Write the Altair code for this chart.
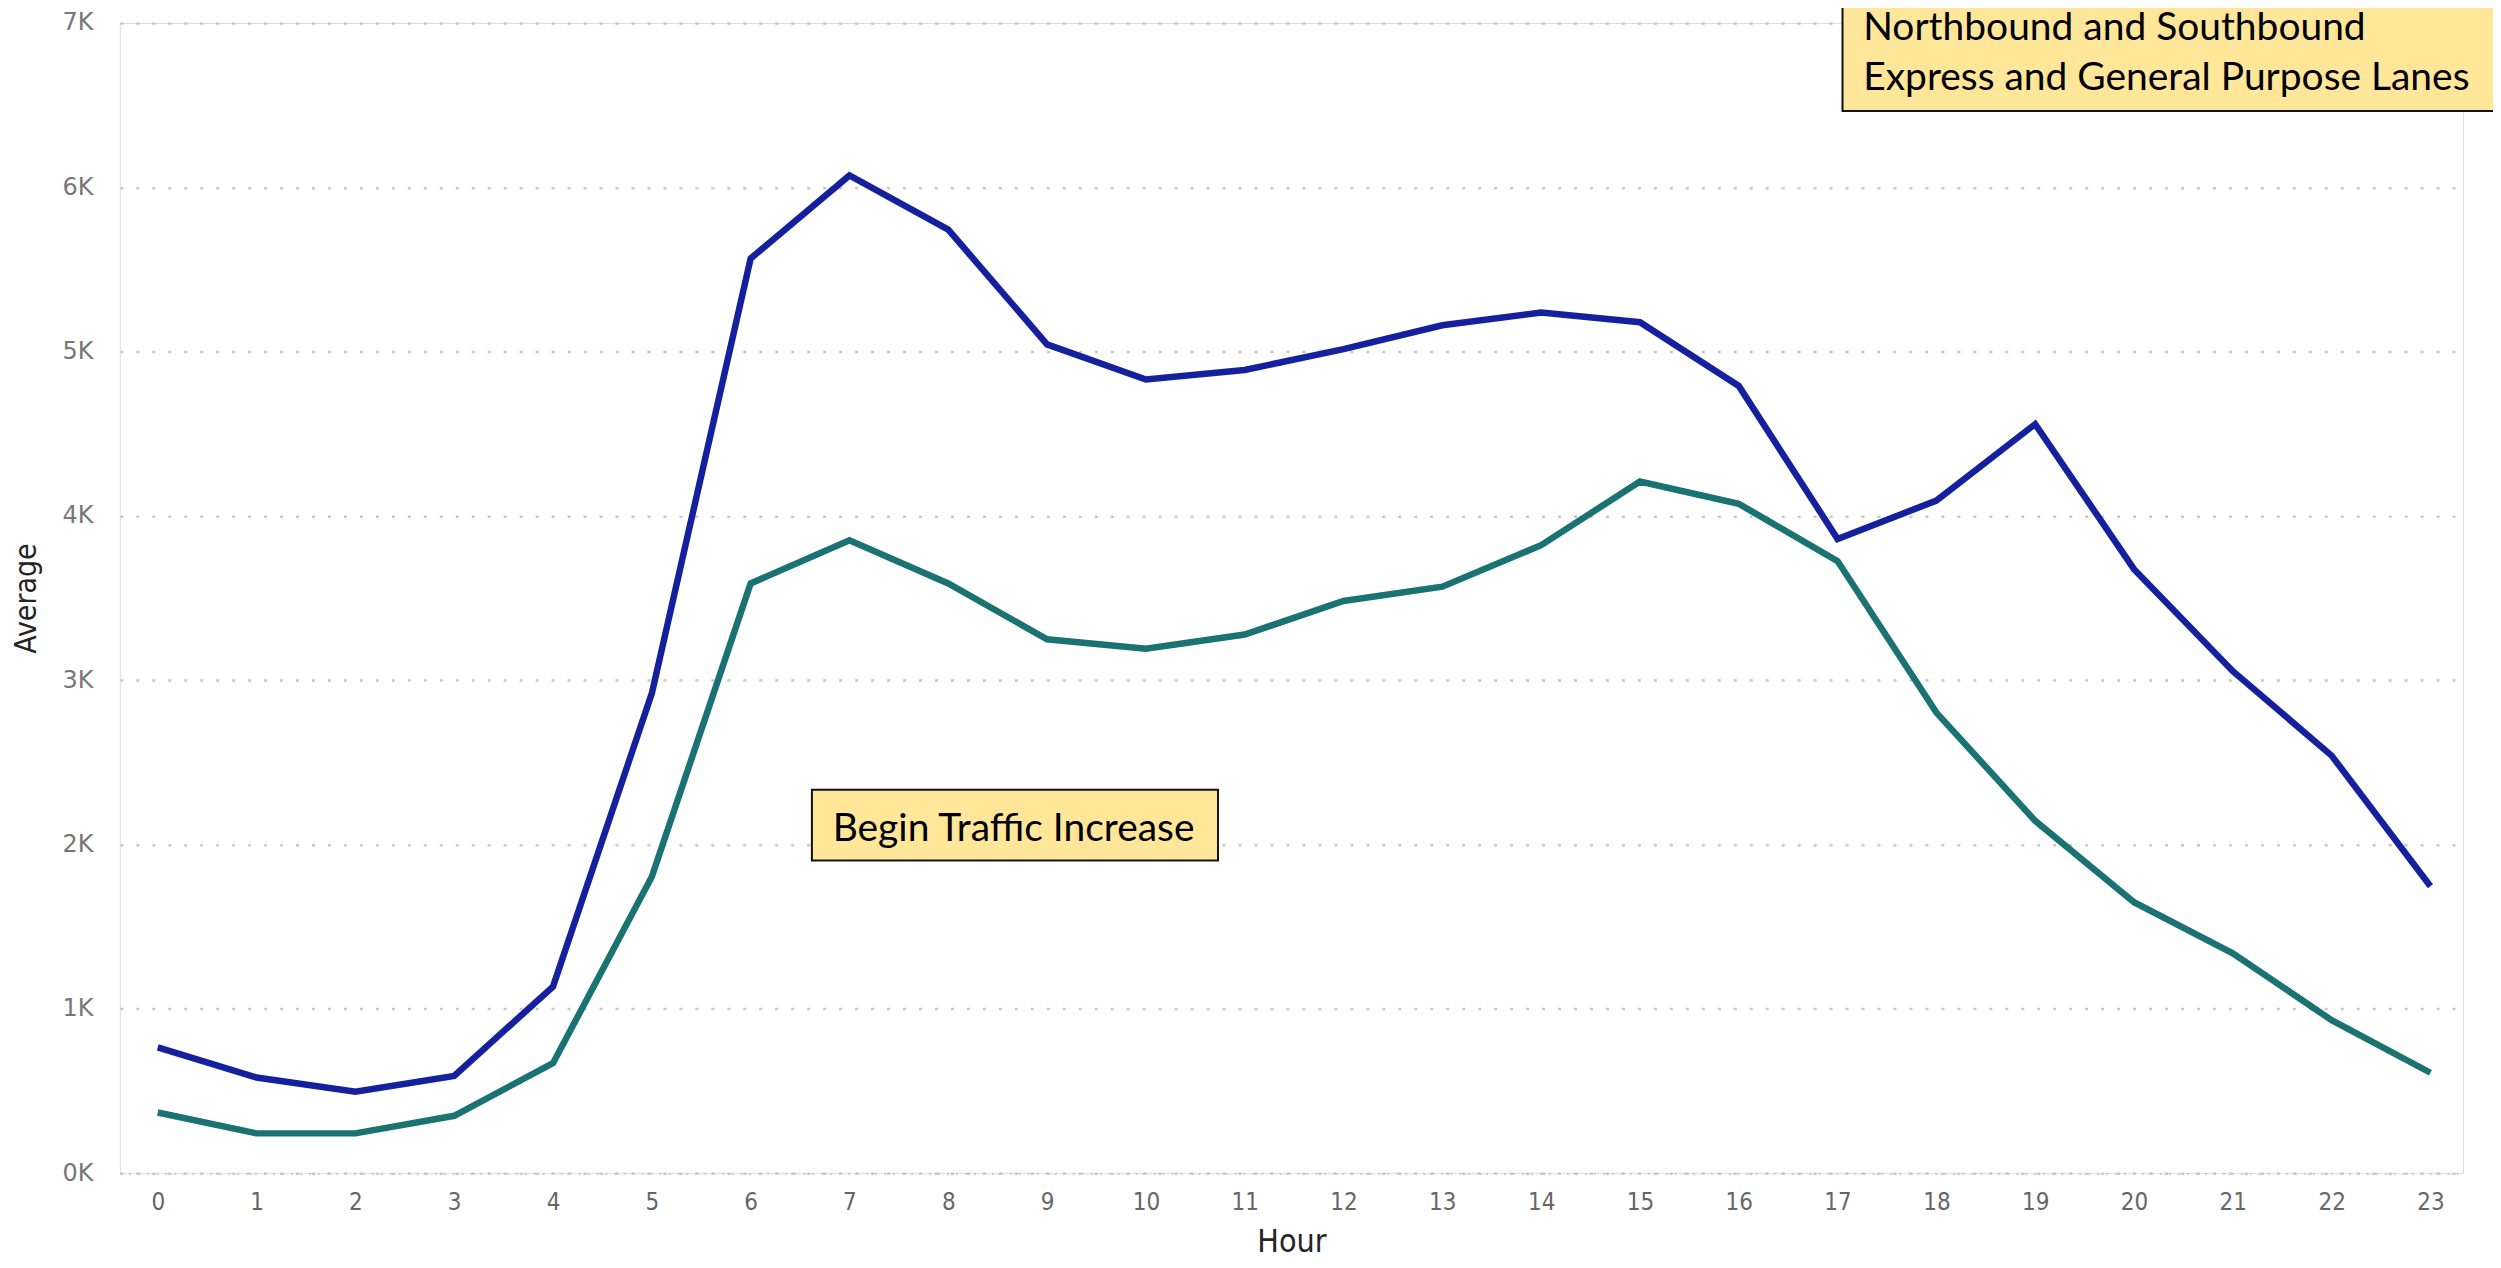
import altair as alt
import pandas as pd

hours = list(range(24))
series_blue = [766, 582, 495, 592, 1135, 2920, 5567, 6072, 5742, 5044, 4830, 4888,
               5015, 5160, 5238, 5179, 4791, 3860, 4093, 4559, 3676, 3055, 2541, 1746]
series_teal = [369, 242, 242, 349, 669, 1804, 3589, 3851, 3589, 3249, 3191, 3278,
               3482, 3569, 3822, 4209, 4074, 3725, 2803, 2144, 1649, 1338, 931, 611]
series_names = ["Northbound and Southbound", "Express and General Purpose"]
series_colors = ["#15209E", "#1A7272"]

y_ticks = [0, 1000, 2000, 3000, 4000, 5000, 6000, 7000]

df = pd.DataFrame({
    "Hour": hours * 2,
    "Average": series_blue + series_teal,
    "Series": [series_names[0]] * 24 + [series_names[1]] * 24,
})

# annotation boxes (data coordinates)
box_x = [6.62, 17.05]
box_x2 = [10.73, 23.65]
box_y = [1902, 6465]
box_y2 = [2333, 7350]
box_df = pd.DataFrame({"x": box_x, "x2": box_x2, "y": box_y, "y2": box_y2})

note_text = ["Begin Traffic Increase", "Northbound and Southbound", "Express and General Purpose Lanes"]
note_x = [6.83, 17.26, 17.26]
note_y = [2023, 6897, 6593]
note_df = pd.DataFrame({"text": note_text, "x": note_x, "y": note_y})

xscale = alt.Scale(domain=[-0.384, 23.33], nice=False, zero=False)
yscale = alt.Scale(domain=[0, 7000], nice=False)

lines = alt.Chart(df).mark_line(strokeWidth=6.5, clip=False).encode(
    x=alt.X("Hour:Q", scale=xscale, title="Hour",
            axis=alt.Axis(values=hours, format="d", grid=False, ticks=False, domain=True,
                          domainColor="#C8C8C8", domainDash=[2, 7], domainWidth=2,
                          labelColor="#666666", labelFontSize=24, labelPadding=17,
                          labelFont="DejaVu Sans Condensed",
                          titleFont="DejaVu Sans Condensed", titleFontSize=32,
                          titleFontWeight="normal", titleColor="#252423",
                          titleY=85, titleBaseline="bottom")),
    y=alt.Y("Average:Q", scale=yscale, title="Average",
            axis=alt.Axis(values=y_ticks, labelExpr="datum.value/1000 + 'K'",
                          grid=True, gridColor="#C8C8C8", gridDash=[3, 13], gridWidth=2.5,
                          ticks=False, domain=False,
                          labelColor="#777777", labelFontSize=24, labelPadding=27,
                          labelFont="DejaVu Sans",
                          titleFont="DejaVu Sans Condensed", titleFontSize=30,
                          titleFontWeight="normal", titleColor="#252423",
                          titleX=-93, titleY=576, titleBaseline="middle", titleAngle=-90)),
    color=alt.Color("Series:N", scale=alt.Scale(domain=series_names, range=series_colors),
                    legend=None),
)

boxes = alt.Chart(box_df).mark_rect(fill="#FFE699", stroke="#111111", strokeWidth=2,
                                    clip=False).encode(
    x=alt.X("x:Q", scale=xscale), x2="x2:Q",
    y=alt.Y("y:Q", scale=yscale), y2="y2:Q",
)

notes = alt.Chart(note_df).mark_text(align="left", baseline="alphabetic", font="Lato",
                                     fontSize=39, color="#000000", clip=False).encode(
    x=alt.X("x:Q", scale=xscale),
    y=alt.Y("y:Q", scale=yscale),
    text="text:N",
)

chart = alt.layer(lines, boxes, notes).properties(
    width=2347, height=1152,
    autosize=alt.AutoSizeParams(type="none"),
    padding={"left": 112, "top": 14, "right": 30, "bottom": 86},
).configure_view(stroke=None).configure(background="white")

chart.save("out.html", embed_options={"renderer": "svg", "actions": False})
